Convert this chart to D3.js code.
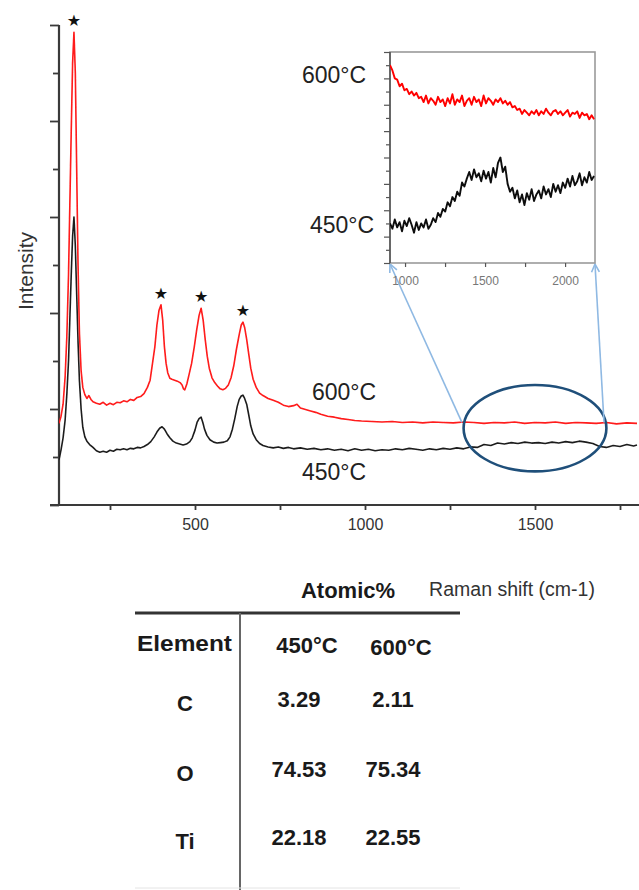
<!DOCTYPE html>
<html>
<head>
<meta charset="utf-8">
<script src="https://cdn.jsdelivr.net/npm/d3@7"></script>
<style>
  html, body { margin: 0; padding: 0; background: #fff; }
  svg { display: block; font-family: "Liberation Sans", Arial, sans-serif; }
</style>
</head>
<body>
<svg id="chart" width="639" height="890"></svg>
<script>
// ---------------- DATA ----------------
// Main Raman spectra (Raman shift cm-1, intensity a.u.)
const shift600 = [100,106,112,118,123,128,132,136,140,144,148,152,156,160,165,170,176,182,188,194,200,210,220,230,240,250,260,270,280,290,300,310,320,330,340,350,360,368,375,382,388,394,400,405,410,415,420,426,432,440,448,456,462,466,470,476,482,490,498,505,512,518,524,530,536,542,550,558,566,574,582,590,598,606,614,622,630,636,641,646,652,658,664,671,680,690,700,715,730,745,760,775,790,800,810,825,840,855,870,890,910,930,950,970,990,1020,1050,1080,1110,1140,1170,1200,1230,1260,1290,1320,1350,1380,1410,1440,1470,1500,1530,1560,1590,1620,1650,1680,1710,1740,1770,1800];
const int600 = [1.70,1.85,2.10,2.67,3.5,4.8,6.3,7.8,9.2,9.85,9.0,7.0,5.0,3.6,2.8,2.45,2.30,2.22,2.28,2.20,2.15,2.12,2.10,2.14,2.08,2.12,2.09,2.14,2.13,2.17,2.15,2.20,2.18,2.24,2.26,2.32,2.45,2.6,2.95,3.3,3.75,4.05,4.17,3.85,3.3,2.95,2.75,2.64,2.62,2.60,2.58,2.55,2.50,2.42,2.40,2.52,2.70,2.95,3.3,3.65,3.95,4.10,3.85,3.45,3.10,2.85,2.65,2.55,2.48,2.42,2.40,2.43,2.50,2.65,2.90,3.25,3.55,3.75,3.81,3.70,3.45,3.15,2.85,2.62,2.45,2.33,2.28,2.22,2.18,2.14,2.08,2.05,2.07,2.10,2.02,1.99,1.96,1.93,1.89,1.85,1.83,1.80,1.78,1.76,1.75,1.74,1.73,1.74,1.72,1.73,1.71,1.73,1.72,1.71,1.73,1.72,1.70,1.72,1.71,1.73,1.70,1.72,1.71,1.73,1.70,1.72,1.71,1.70,1.72,1.69,1.71,1.70];

const shift450 = [100,106,112,118,123,128,132,136,140,144,148,152,156,160,165,170,176,182,190,200,210,220,230,240,250,260,270,280,290,300,310,320,330,340,350,360,370,380,388,396,403,410,418,426,435,445,455,465,475,485,492,500,506,512,518,523,528,535,544,555,565,575,585,595,603,610,617,624,630,636,641,646,652,658,664,671,680,690,700,715,730,745,760,775,790,810,830,850,870,890,910,930,950,970,990,1010,1030,1050,1070,1090,1110,1130,1150,1170,1190,1210,1230,1250,1270,1290,1310,1330,1350,1370,1390,1410,1430,1450,1470,1490,1510,1530,1550,1570,1590,1610,1630,1650,1670,1690,1710,1730,1750,1770,1790,1800];
const int450 = [0.94,1.15,1.40,1.77,2.3,3.0,3.9,4.8,5.6,6.0,5.4,4.4,3.4,2.6,2.0,1.62,1.42,1.33,1.26,1.20,1.13,1.10,1.12,1.10,1.14,1.12,1.16,1.15,1.17,1.15,1.18,1.17,1.20,1.19,1.22,1.26,1.32,1.42,1.52,1.60,1.63,1.58,1.48,1.40,1.33,1.29,1.27,1.25,1.27,1.32,1.40,1.56,1.72,1.80,1.83,1.72,1.58,1.45,1.36,1.31,1.29,1.30,1.31,1.34,1.42,1.58,1.80,2.05,2.20,2.27,2.29,2.22,2.10,1.88,1.65,1.48,1.36,1.28,1.24,1.21,1.19,1.21,1.18,1.20,1.17,1.19,1.16,1.18,1.15,1.17,1.14,1.16,1.13,1.17,1.14,1.16,1.13,1.15,1.14,1.17,1.15,1.18,1.16,1.14,1.17,1.15,1.18,1.16,1.19,1.17,1.21,1.20,1.26,1.24,1.29,1.27,1.30,1.28,1.31,1.29,1.30,1.28,1.31,1.29,1.32,1.30,1.33,1.31,1.28,1.22,1.20,1.24,1.22,1.26,1.23,1.25];

// Marked anatase peaks (shift, intensity of 600°C peak)
const starShift = [144, 400, 518, 641];
const starInt = [9.85, 4.17, 4.10, 3.81];

// Inset (zoom on 900–2200 cm-1), intensities in inset units
const insetShift = [906,921,936,951,966,981,996,1011,1026,1041,1056,1071,1086,1101,1116,1131,1146,1161,1176,1191,1206,1221,1236,1251,1266,1281,1296,1311,1326,1341,1356,1371,1386,1401,1416,1431,1446,1461,1476,1491,1506,1521,1536,1551,1566,1581,1596,1611,1626,1641,1656,1671,1686,1701,1716,1731,1746,1761,1776,1791,1806,1821,1836,1851,1866,1881,1896,1911,1926,1941,1956,1971,1986,2001,2016,2031,2046,2061,2076,2091,2106,2121,2136,2151,2166,2181];
const inset600 = [15.0,14.6,14.0,13.9,13.4,13.6,13.1,13.2,12.8,13.0,12.7,12.9,12.5,12.6,12.2,12.7,12.1,12.5,12.3,12.0,12.6,12.2,12.4,11.9,12.5,12.1,12.8,12.0,12.4,12.2,12.7,11.9,12.3,12.5,12.0,12.6,12.2,12.4,11.9,12.7,12.1,12.5,12.3,12.0,12.4,12.2,12.5,12.1,12.3,12.0,12.2,11.8,11.9,11.6,11.7,11.3,11.6,11.4,11.2,11.5,11.3,11.6,11.2,11.5,11.3,11.7,11.4,11.2,11.5,11.6,11.3,11.5,11.2,11.4,11.6,11.1,11.4,11.3,11.5,11.0,11.4,11.2,11.3,10.9,11.2,10.9];
const inset450 = [3.0,2.6,3.3,2.7,3.1,2.4,3.2,2.8,3.4,2.9,2.3,3.1,2.5,3.0,2.7,3.3,2.6,2.9,3.4,3.1,3.8,3.5,4.1,3.9,4.6,4.3,5.0,4.7,5.4,5.1,6.1,5.8,6.4,6.9,6.3,7.1,6.5,6.8,6.2,7.0,6.4,6.9,6.1,7.2,6.5,7.6,8.0,6.9,7.3,6.0,5.4,5.7,4.9,5.5,4.6,5.2,4.4,5.3,4.8,5.6,4.7,5.2,5.5,4.9,5.8,5.2,5.6,5.0,6.0,5.4,5.9,5.3,6.1,5.7,6.4,5.8,6.6,5.9,6.2,6.8,5.9,6.5,6.1,6.9,6.3,6.6];

// Axis ticks
const xTicks = [250, 500, 750, 1000, 1250, 1500, 1750];
const xTickLabels = ["", "500", "", "1000", "", "1500", ""];
const yTicks = [0,1,2,3,4,5,6,7,8,9,10];
const insetXTicks = [1000, 1250, 1500, 1750, 2000];
const insetXTickLabels = ["1000", "", "1500", "", "2000"];
const insetYTicks = d3.range(0, 17);

// Zoom annotation (ellipse around 1300–1700 cm-1 region)
const zoomCenter = [1500, 1.6];
const zoomRadii = [210, 0.9];
const arrowFrom = [[1285, 1.72], [1703, 1.72]];
const arrowTo = [906, 2187];

// EDS table
const elements = ["C", "O", "Ti"];
const atomic450 = [3.29, 74.53, 22.18];
const atomic600 = [2.11, 75.34, 22.55];

// ---------------- DRAW ----------------
const svg = d3.select("#chart");
svg.append("rect").attr("width", 639).attr("height", 890).attr("fill", "#fff");

const defs = svg.append("defs");
defs.append("filter").attr("id", "soft")
  .append("feGaussianBlur").attr("stdDeviation", 0.35);
defs.append("clipPath").attr("id", "insetClip")
  .append("rect").attr("x", 390).attr("y", 52).attr("width", 205).attr("height", 211);
defs.append("clipPath").attr("id", "mainClip")
  .append("rect").attr("x", 59).attr("y", 10).attr("width", 580).attr("height", 495);

const x = d3.scaleLinear().domain([100, 1800]).range([59, 637]);
const y = d3.scaleLinear().domain([0, 10]).range([505, 25]);

const axisColor = "#3a3a3a";

// Y axis
const yAxis = svg.append("g").attr("transform", "translate(59,0)")
  .call(d3.axisLeft(y).tickValues(yTicks).tickFormat("").tickSizeOuter(0)
    .tickSize(6));
yAxis.select(".domain").remove();
yAxis.selectAll(".tick line")
  .attr("x2", d => (d % 2 === 0 ? -9 : -6))
  .attr("stroke", axisColor).attr("stroke-width", 1.8);
svg.append("line").attr("x1", 59).attr("x2", 59).attr("y1", y(10)).attr("y2", y(0))
  .attr("stroke", axisColor).attr("stroke-width", 2.2);

// X axis
const xAxis = svg.append("g").attr("transform", `translate(0,${y(0)})`)
  .call(d3.axisBottom(x).tickValues(xTicks).tickFormat((d, i) => xTickLabels[i])
    .tickSize(5).tickPadding(9));
xAxis.select(".domain").remove();
xAxis.selectAll(".tick line").attr("stroke", axisColor).attr("stroke-width", 1.8);
xAxis.selectAll(".tick text").attr("font-size", 16).attr("fill", "#333")
  .attr("font-family", "Liberation Sans, Arial, sans-serif");
svg.append("line").attr("x1", x(100) - 9).attr("x2", 639).attr("y1", y(0)).attr("y2", y(0))
  .attr("stroke", axisColor).attr("stroke-width", 2.2);

// Axis titles
svg.append("text").attr("transform", "translate(33,271) rotate(-90)")
  .attr("text-anchor", "middle").attr("font-size", 21).attr("fill", "#333")
  .text("Intensity");
svg.append("text").attr("x", 512).attr("y", 596).attr("text-anchor", "middle")
  .attr("font-size", 19.5).attr("fill", "#333").text("Raman shift (cm-1)");

// Spectra
const line = d3.line().x(d => x(d[0])).y(d => y(d[1]));
const mainG = svg.append("g").attr("clip-path", "url(#mainClip)").attr("filter", "url(#soft)");
mainG.append("path").datum(d3.zip(shift450, int450)).attr("d", line)
  .attr("fill", "none").attr("stroke", "#1e1e1e").attr("stroke-width", 1.6)
  .attr("stroke-linejoin", "round");
mainG.append("path").datum(d3.zip(shift600, int600)).attr("d", line)
  .attr("fill", "none").attr("stroke", "#ff1a1a").attr("stroke-width", 1.6)
  .attr("stroke-linejoin", "round");

// Stars
svg.selectAll("text.star").data(d3.zip(starShift, starInt)).join("text")
  .attr("class", "star")
  .attr("x", d => x(d[0])).attr("y", d => y(d[1]) - 6)
  .attr("text-anchor", "middle").attr("font-size", 16).attr("fill", "#111")
  .attr("font-family", "DejaVu Sans, sans-serif")
  .text("★");

// Series labels (main)
svg.append("text").attr("x", 312).attr("y", 400).attr("font-size", 23).attr("fill", "#222").text("600°C");
svg.append("text").attr("x", 302).attr("y", 480).attr("font-size", 23).attr("fill", "#222").text("450°C");

// Zoom ellipse
svg.append("ellipse")
  .attr("cx", x(zoomCenter[0])).attr("cy", y(zoomCenter[1]))
  .attr("rx", x(zoomCenter[0] + zoomRadii[0]) - x(zoomCenter[0]))
  .attr("ry", y(0) - y(zoomRadii[1]))
  .attr("fill", "none").attr("stroke", "#1f4f7a").attr("stroke-width", 2.6);

// Inset scales
const xi = d3.scaleLinear().domain([906, 2187]).range([390, 595]);
const yi = d3.scaleLinear().domain([0, 16]).range([263, 52]);

// Arrows from ellipse to inset corners
const arrowColor = "#8fb9e3";
arrowFrom.forEach((p, i) => {
  const x1 = x(p[0]), y1 = y(p[1]);
  const x2 = xi(arrowTo[i]), y2 = yi(0) + 1;
  svg.append("line").attr("x1", x1).attr("y1", y1).attr("x2", x2).attr("y2", y2)
    .attr("stroke", arrowColor).attr("stroke-width", 1.6);
  const ang = Math.atan2(y2 - y1, x2 - x1);
  const L = 9, spread = 0.45;
  const pts = [
    [x2 - L * Math.cos(ang - spread), y2 - L * Math.sin(ang - spread)],
    [x2, y2],
    [x2 - L * Math.cos(ang + spread), y2 - L * Math.sin(ang + spread)]
  ];
  svg.append("polyline").attr("points", pts.map(q => q.join(",")).join(" "))
    .attr("fill", "none").attr("stroke", arrowColor).attr("stroke-width", 1.6);
});

// Inset frame
svg.append("rect").attr("x", 390).attr("y", 52).attr("width", 205).attr("height", 211)
  .attr("fill", "#fff").attr("stroke", "#9a9a9a").attr("stroke-width", 1.6);

// Inset y axis
const iy = svg.append("g").attr("transform", "translate(390,0)")
  .call(d3.axisLeft(yi).tickValues(insetYTicks).tickFormat("").tickSize(5));
iy.select(".domain").remove();
iy.selectAll(".tick line").attr("x2", d => (d % 2 === 0 ? -6 : -4))
  .attr("stroke", "#555").attr("stroke-width", 1.2);
svg.append("line").attr("x1", 390).attr("x2", 390).attr("y1", 52).attr("y2", 263)
  .attr("stroke", "#555").attr("stroke-width", 1.6);

// Inset x axis
const ix = svg.append("g").attr("transform", "translate(0,263)")
  .call(d3.axisBottom(xi).tickValues(insetXTicks).tickFormat((d, i) => insetXTickLabels[i])
    .tickSize(4).tickPadding(9));
ix.select(".domain").remove();
ix.selectAll(".tick line").attr("stroke", "#555").attr("stroke-width", 1.2);
ix.selectAll(".tick text").attr("font-size", 12).attr("fill", "#777")
  .attr("font-family", "Liberation Sans, Arial, sans-serif");

// Inset spectra
const iline = d3.line().x(d => xi(d[0])).y(d => yi(d[1]));
const insetG = svg.append("g").attr("clip-path", "url(#insetClip)").attr("filter", "url(#soft)");
insetG.append("path").datum(d3.zip(insetShift, inset600)).attr("d", iline)
  .attr("fill", "none").attr("stroke", "#ff0000").attr("stroke-width", 1.9)
  .attr("stroke-linejoin", "round");
insetG.append("path").datum(d3.zip(insetShift, inset450)).attr("d", iline)
  .attr("fill", "none").attr("stroke", "#111").attr("stroke-width", 1.9)
  .attr("stroke-linejoin", "round");

// Inset labels
svg.append("text").attr("x", 302).attr("y", 83).attr("font-size", 23).attr("fill", "#222").text("600°C");
svg.append("text").attr("x", 310).attr("y", 233).attr("font-size", 23).attr("fill", "#222").text("450°C");

// ---------------- TABLE ----------------
const fs = 22;
const tbl = svg.append("g").attr("font-weight", "bold").attr("fill", "#1a1a1a");
tbl.append("text").attr("x", 348).attr("y", 598).attr("text-anchor", "middle")
  .attr("font-size", fs).text("Atomic%");
svg.append("line").attr("x1", 135).attr("x2", 460).attr("y1", 613).attr("y2", 613)
  .attr("stroke", "#333").attr("stroke-width", 3);
svg.append("line").attr("x1", 240).attr("x2", 240).attr("y1", 613).attr("y2", 890)
  .attr("stroke", "#666").attr("stroke-width", 2);
svg.append("line").attr("x1", 135).attr("x2", 460).attr("y1", 888).attr("y2", 888)
  .attr("stroke", "#e4e4e4").attr("stroke-width", 1);

tbl.append("text").attr("x", 137).attr("y", 651)
  .attr("font-size", fs).attr("textLength", 95).attr("lengthAdjust", "spacingAndGlyphs")
  .text("Element");
tbl.append("text").attr("x", 307).attr("y", 653).attr("text-anchor", "middle")
  .attr("font-size", fs).text("450°C");
tbl.append("text").attr("x", 401).attr("y", 655).attr("text-anchor", "middle")
  .attr("font-size", fs).text("600°C");

const rowY = [709, 779, 847];
elements.forEach((el, i) => {
  tbl.append("text").attr("x", 185).attr("y", rowY[i] + 2).attr("text-anchor", "middle")
    .attr("font-size", fs).text(el);
  tbl.append("text").attr("x", 299).attr("y", rowY[i] - 2).attr("text-anchor", "middle")
    .attr("font-size", fs).text(atomic450[i].toFixed(2));
  tbl.append("text").attr("x", 393).attr("y", rowY[i] - 2).attr("text-anchor", "middle")
    .attr("font-size", fs).text(atomic600[i].toFixed(2));
});
</script>
</body>
</html>
